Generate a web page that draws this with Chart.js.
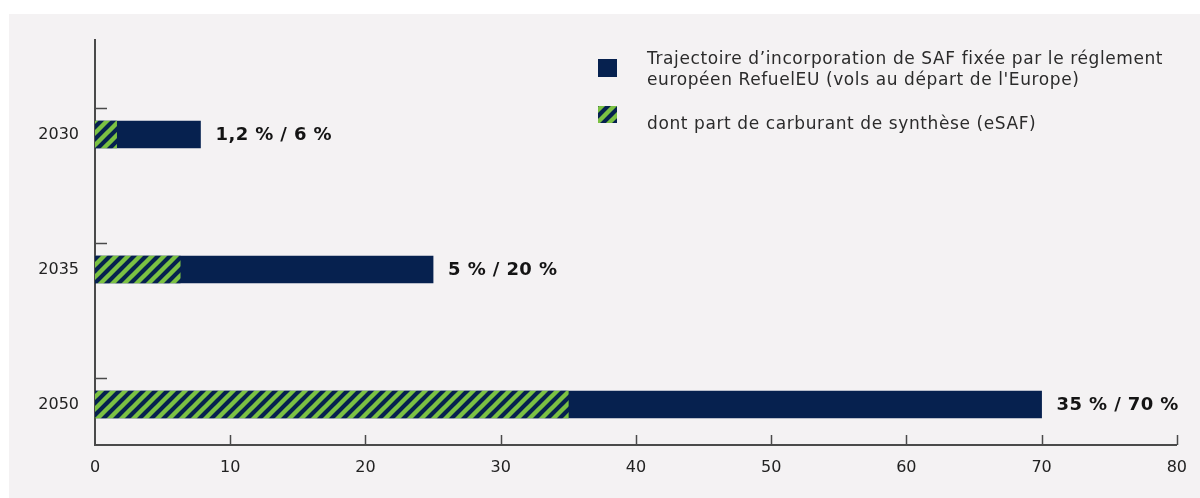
<!DOCTYPE html>
<html>
<head>
<meta charset="utf-8">
<script src="https://cdn.jsdelivr.net/npm/chart.js@4"></script>
<style>
  html, body { margin: 0; padding: 0; background: #ffffff; }
  #wrap { width: 1200px; height: 498px; }
</style>
</head>
<body>
<div id="wrap"><canvas id="myChart" width="1200" height="498"></canvas></div>
<script>
// donnees
var annees = ["2030", "2035", "2050"];
var trajectoire = [7.8, 25, 70];
var eSaf = [1.6, 6.3, 35];
var etiquettes = ["1,2 % / 6 %", "5 % / 20 %", "35 % / 70 %"];
var ticksX = [0, 10, 20, 30, 40, 50, 60, 70, 80];

var legendeSaf = ["Trajectoire d\u2019incorporation de SAF fixée par le réglement",
                  "européen RefuelEU (vols au départ de l'Europe)"];
var legendeEsaf = "dont part de carburant de synthèse (eSAF)";

var navy = "#06214f";
var vert = "#7bc143";
var police = "'DejaVu Sans', sans-serif";

var canvas = document.getElementById("myChart");
var ctx = canvas.getContext("2d");

//motif hachure vert / bleu
function hachure() {
    var s = 12;
    var c = document.createElement("canvas");
    c.width = s;
    c.height = s;
    var g = c.getContext("2d");
    g.fillStyle = navy;
    g.fillRect(0, 0, s, s);
    g.strokeStyle = vert;
    g.lineWidth = 4.4;
    g.beginPath();
    g.moveTo(-1, s + 1); g.lineTo(s + 1, -1);
    g.moveTo(-s / 2 - 1, s / 2 + 1); g.lineTo(s / 2 + 1, -s / 2 - 1);
    g.moveTo(s / 2 - 1, s * 1.5 + 1); g.lineTo(s * 1.5 + 1, s / 2 - 1);
    g.stroke();
    return ctx.createPattern(c, "repeat");
}
var motif = hachure();

function points(valeurs) {
    return valeurs.map(function (v, i) { return { x: v, y: i }; });
}

var fond = {
    id: "fond",
    beforeDraw: function (chart) {
        var c = chart.ctx;
        c.save();
        c.fillStyle = "#ffffff";
        c.fillRect(0, 0, chart.width, chart.height);
        c.fillStyle = "#f4f2f3";
        c.fillRect(9, 14, chart.width - 9, chart.height - 14);
        c.restore();
    }
};

var decor = {
    id: "decor",
    afterDraw: function (chart) {
        var c = chart.ctx;
        var xs = chart.scales.x;
        var ys = chart.scales.y;
        var area = chart.chartArea;
        c.save();
        c.strokeStyle = "#4a4a4a";
        c.lineWidth = 1.5;
        // petits traits de l'axe vertical
        for (var i = 0; i < annees.length; i++) {
            var py = Math.round(ys.getPixelForValue(i - 0.2)) + 0.5;
            c.beginPath();
            c.moveTo(area.left, py);
            c.lineTo(area.left + 12, py);
            c.stroke();
        }
        // traits de l'axe horizontal, vers le haut
        for (var j = 1; j < ticksX.length; j++) {
            var px = Math.round(xs.getPixelForValue(ticksX[j])) + 0.5;
            c.beginPath();
            c.moveTo(px, area.bottom);
            c.lineTo(px, area.bottom - 10);
            c.stroke();
        }

        // etiquettes des barres
        var meta = chart.getDatasetMeta(1);
        c.fillStyle = "#141414";
        c.font = "bold 18px " + police;
        c.letterSpacing = "0.4px";
        c.textBaseline = "middle";
        meta.data.forEach(function (bar, k) {
            c.fillText(etiquettes[k], bar.x + 15, bar.y + 1);
        });

        // legende
        c.fillStyle = navy;
        c.fillRect(598, 59, 19, 18);
        c.fillStyle = motif;
        c.fillRect(598, 106, 19, 17);
        c.fillStyle = "#2b2b2b";
        c.font = "17px " + police;
        c.letterSpacing = "0.6px";
        c.fillText(legendeSaf[0], 647, 60);
        c.fillText(legendeSaf[1], 647, 81);
        c.fillText(legendeEsaf, 647, 125);
        c.restore();
    }
};

new Chart(canvas, {
    type: "bar",
    data: {
        datasets: [{
            label: "eSAF",
            data: points(eSaf),
            backgroundColor: motif,
            grouped: false,
            barThickness: 27,
            order: 1
        }, {
            label: "SAF",
            data: points(trajectoire),
            backgroundColor: navy,
            grouped: false,
            barThickness: 27,
            order: 2
        }]
    },
    plugins: [fond, decor],
    options: {
        responsive: false,
        animation: false,
        indexAxis: "y",
        layout: { padding: { left: 0, right: 20, top: 40, bottom: 0 } },
        plugins: {
            legend: { display: false },
            tooltip: { enabled: false }
        },
        scales: {
            x: {
                type: "linear",
                min: 0,
                max: 80,
                afterBuildTicks: function (s) {
                    s.ticks = ticksX.map(function (v) { return { value: v }; });
                },
                grid: { display: false, drawTicks: false },
                border: { display: true, color: "#4a4a4a", width: 2 },
                ticks: {
                    padding: 13,
                    color: "#222222",
                    font: { family: police, size: 16 }
                },
                afterFit: function (s) { s.height = 53; }
            },
            y: {
                type: "linear",
                offset: false,
                reverse: true,
                min: -0.7,
                max: 2.3,
                afterBuildTicks: function (s) {
                    s.ticks = annees.map(function (a, i) { return { value: i }; });
                },
                grid: { display: false, drawTicks: false, offset: false },
                border: { display: true, color: "#4a4a4a", width: 2 },
                ticks: {
                    padding: 16,
                    color: "#222222",
                    font: { family: police, size: 16 },
                    callback: function (v) { return annees[v]; }
                },
                afterFit: function (s) { s.width = 95; }
            }
        }
    }
});
</script>
</body>
</html>
